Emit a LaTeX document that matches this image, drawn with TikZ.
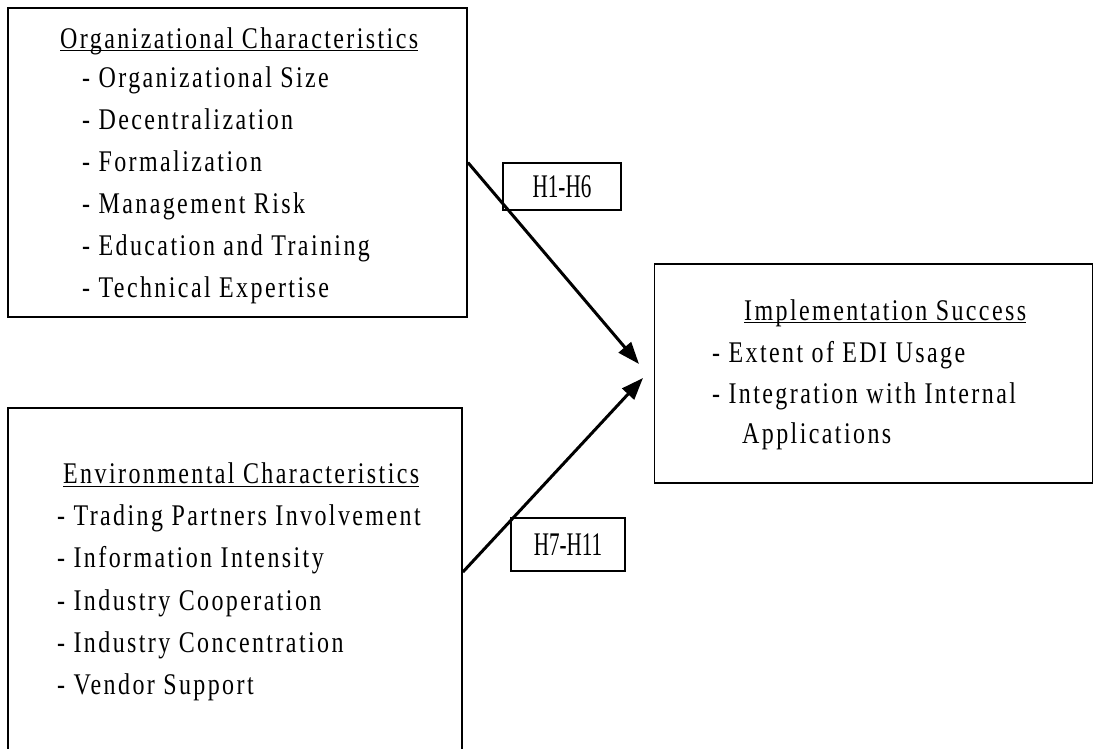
\documentclass[tikz,border=0pt]{standalone}
\usepackage{fontspec}
\setmainfont[FakeStretch=0.8,LetterSpace=8]{Liberation Serif}
\newfontfamily\hfont[FakeStretch=0.64]{Liberation Serif}
\usetikzlibrary{arrows.meta}
\begin{document}
\begin{tikzpicture}[x=1pt,y=-1pt,
  box/.style={draw=black, line width=1.8pt, inner sep=0pt, rectangle},
  txt/.style={anchor=base west, inner sep=0pt, font=\fontsize{30}{34}\selectfont},
  hyp/.style={draw=black, line width=1.5pt, inner sep=0pt, font=\hfont\fontsize{33}{36}\selectfont},
  uline/.style={line width=1pt},
  conn/.style={line width=3pt, -{Triangle[length=22pt,width=16pt]}}
]
\clip (0,0) rectangle (1094,748);
\fill[white] (0,0) rectangle (1094,748);

% boxes
\node[box, minimum width=459pt, minimum height=309pt] (org) at (237.5,162.5) {};
\node[box, minimum width=454pt, minimum height=372pt] (env) at (235,594) {};
\node[box, minimum width=438pt, minimum height=219pt] (imp) at (873.5,373.5) {};

% organizational characteristics
\node[txt] (orgT) at (60,48) {Organizational Characteristics};
\draw[uline] ([yshift=-2pt]orgT.base west) -- ([yshift=-2pt]orgT.base east);
\node[txt] (o1) at (82,87) {- Organizational Size};
\node[txt] (o2) at (82,129) {- Decentralization};
\node[txt] (o3) at (82,171) {- Formalization};
\node[txt] (o4) at (82,213) {- Management Risk};
\node[txt] (o5) at (82,255) {- Education and Training};
\node[txt] (o6) at (82,297) {- Technical Expertise};

% environmental characteristics
\node[txt] (envT) at (63,483) {Environmental Characteristics};
\draw[uline] ([yshift=-3pt]envT.base west) -- ([yshift=-3pt]envT.base east);
\node[txt] (e1) at (57,525) {- Trading Partners Involvement};
\node[txt] (e2) at (57,567) {- Information Intensity};
\node[txt] (e3) at (57,610) {- Industry Cooperation};
\node[txt] (e4) at (57,652) {- Industry Concentration};
\node[txt] (e5) at (57,694) {- Vendor Support};

% implementation success
\node[txt] (impT) at (744,320) {Implementation Success};
\draw[uline] ([yshift=-2pt]impT.base west) -- ([yshift=-2pt]impT.base east);
\node[txt] (i1) at (712,362) {- Extent of EDI Usage};
\node[txt] (i2) at (712,403) {- Integration with Internal};
\node[txt] (i3) at (742,443) {Applications};

% hypothesis labels
\node[hyp, minimum width=118pt, minimum height=47pt] (h1) at (562,186.5) {H1-H6};
\node[hyp, minimum width=114pt, minimum height=53pt] (h2) at (568,544.5) {H7-H11};

% connectors
\coordinate (t1) at (639,364);
\coordinate (t2) at (643,378);
\draw[conn] (org.east) -- (t1);
\draw[conn] (env.east |- 0,572) -- (t2);
\end{tikzpicture}
\end{document}
